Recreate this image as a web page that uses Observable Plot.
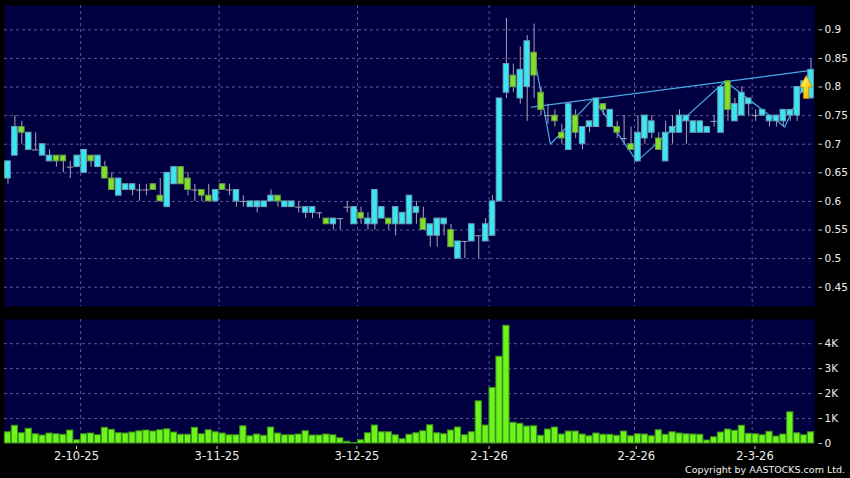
<!DOCTYPE html>
<html><head><meta charset="utf-8">
<script src="https://cdn.jsdelivr.net/npm/d3@7"></script>
<script src="https://cdn.jsdelivr.net/npm/@observablehq/plot@0.6"></script>
<style>
html,body{margin:0;padding:0;background:#000;}
#wrap{position:relative;width:850px;height:478px;overflow:hidden;background:#000;}
#top{position:absolute;left:0;top:0;}
#bot{position:absolute;left:0;top:310px;}
#copy{position:absolute;right:5px;top:464px;color:#f0f0f0;font:9.5px "DejaVu Sans",sans-serif;white-space:nowrap;}
</style></head>
<body><div id="wrap"><div id="top"></div><div id="bot"></div><div id="copy">Copyright by AASTOCKS.com Ltd.</div></div>
<script>
// ---- data ----
const open  = [.64,.68,.73,.69,.69,.68,.67,.68,.68,.66, .66,.65,.68,.66,.66,.64,.61,.62,.62,.62, .62,.63,.61,.59,.63,.66,.64,.62,.62,.61, .60,.63,.62,.60,.60,.59,.59,.59,.60,.61, .59,.59,.59,.58,.58,.58,.57,.56,.57,.59, .56,.58,.56,.56,.57,.57,.56,.56,.56,.58, .57,.54,.54,.56,.55,.50,.53,.53,.54,.53, .54,.60,.79,.82,.78,.80,.86,.79,.75,.75, .72,.69,.75,.70,.73,.73,.77,.73,.73,.71, .70,.67,.71,.72,.71,.67,.72,.72,.74,.72, .72,.72,.74,.72,.81,.74,.75,.77,.75,.75, .74,.74,.74,.75,.75,.79,.78];
const high  = [.67,.75,.74,.72,.72,.70,.69,.68,.68,.67, .68,.69,.68,.68,.67,.65,.64,.63,.63,.63, .63,.63,.64,.65,.66,.66,.65,.63,.62,.63, .62,.63,.63,.62,.61,.60,.60,.60,.62,.61, .60,.60,.60,.59,.59,.58,.57,.57,.57,.60, .59,.59,.58,.62,.59,.57,.59,.58,.61,.60, .59,.56,.57,.57,.56,.53,.53,.56,.54,.57, .61,.78,.92,.84,.87,.89,.91,.80,.77,.76, .735,.77,.76,.73,.74,.78,.77,.76,.74,.75, .73,.75,.75,.75,.72,.74,.75,.76,.75,.74, .74,.73,.75,.80,.81,.78,.80,.78,.76,.76, .75,.75,.76,.76,.80,.81,.85];
const low   = [.63,.68,.70,.69,.69,.68,.67,.66,.65,.64, .66,.65,.66,.66,.64,.62,.61,.62,.61,.60, .61,.62,.60,.59,.63,.63,.61,.60,.60,.60, .60,.62,.61,.59,.59,.59,.58,.59,.60,.59, .59,.59,.58,.57,.57,.57,.56,.55,.55,.58, .56,.56,.55,.55,.57,.55,.54,.56,.56,.56, .55,.52,.52,.54,.52,.50,.50,.53,.50,.53, .54,.60,.78,.79,.77,.74,.78,.75,.735,.73, .70,.69,.71,.69,.72,.73,.75,.73,.71,.70, .69,.67,.70,.71,.69,.67,.70,.72,.70,.72, .72,.72,.73,.72,.74,.74,.75,.75,.74,.75, .73,.73,.73,.74,.74,.78,.78];
const close = [.67,.73,.72,.72,.69,.70,.68,.67,.67,.66, .68,.69,.67,.68,.64,.62,.64,.63,.63,.62, .62,.62,.60,.65,.66,.63,.62,.62,.61,.60, .62,.62,.62,.62,.60,.60,.60,.60,.61,.60, .60,.60,.59,.59,.59,.58,.56,.57,.57,.59, .59,.57,.57,.62,.59,.56,.59,.58,.61,.59, .55,.56,.57,.57,.52,.53,.53,.56,.54,.56, .60,.78,.84,.80,.83,.88,.82,.76,.75,.74, .71,.77,.72,.73,.74,.78,.76,.76,.72,.71, .69,.72,.75,.74,.69,.72,.73,.75,.75,.74, .74,.73,.74,.80,.76,.77,.79,.78,.75,.76, .75,.75,.76,.76,.80,.81,.83];
const volumeK = [.45,.71,.41,.59,.37,.32,.40,.37,.35,.52, .13,.37,.40,.33,.63,.55,.41,.40,.44,.49, .52,.48,.53,.57,.44,.35,.35,.63,.37,.53, .45,.40,.33,.33,.69,.29,.36,.31,.64,.40, .33,.33,.36,.49,.32,.32,.36,.33,.21,.07, .02,.13,.41,.72,.45,.45,.33,.17,.35,.41, .49,.73,.41,.37,.52,.64,.33,.45,1.69,.72, 2.23,3.48,4.72,.83,.79,.68,.69,.31,.56,.64, .36,.48,.48,.36,.29,.40,.35,.35,.31,.48, .29,.37,.36,.29,.53,.35,.45,.40,.37,.36, .35,.12,.25,.44,.56,.51,.71,.39,.37,.33, .47,.28,.36,1.25,.41,.33,.45];
const priceTicks  = [0.45,0.5,0.55,0.6,0.65,0.7,0.75,0.8,0.85,0.9];
const priceLabels = ["0.45","0.5","0.55","0.6","0.65","0.7","0.75","0.8","0.85","0.9"];
const volTicks  = [0,1,2,3,4];
const volLabels = ["0","1K","2K","3K","4K"];
const dateLabels = ["2-10-25","3-11-25","3-12-25","2-1-26","2-2-26","2-3-26"];
const dateTickPos = [10.9,31.2,51.4,70.5,91.75,108.9];
const gridPos = [11.5,31.5,51.5,70.5,91.5,108.5];
const zigzagT = [77.0,79.35,85.6,91.85,104.6,113.2,117.0];
const zigzagP = [0.855,0.70,0.78,0.67,0.81,0.73,0.83];
const trendT = [76.6,117.0];
const trendP = [0.765,0.829];
const arrowT = [116.3];
const arrowP = [0.80];

// ---- build tables ----
const candles = open.map((o,i)=>({t:i+1,o,h:high[i],l:low[i],c:close[i],v:volumeK[i]}));
const ups = candles.filter(d=>d.c>d.o), downs = candles.filter(d=>d.c<d.o), dojis = candles.filter(d=>d.c===d.o);
const zigzag = zigzagT.map((t,i)=>({t,p:zigzagP[i]}));
const trend = trendT.map((t,i)=>({t,p:trendP[i]}));
const arrow = arrowT.map((t,i)=>({t,p:arrowP[i]}));

const PANEL="#000040", GRID="#5a5a92", WICK="#a4a4b4", CYAN="#3ae6f2", CYANS="#6aa2b4", GREEN="#80e02a", GREENS="#6a9a48", LINE="#45a8e8";
const XD=[0.5,117.5];
const arrowSymbol = {draw(ctx,size){const k=Math.sqrt(size/Math.PI)/4.5;
  ctx.moveTo(0,-11.5*k);ctx.lineTo(6.2*k,0);ctx.lineTo(2.6*k,0);ctx.lineTo(2.6*k,11.5*k);
  ctx.lineTo(-2.6*k,11.5*k);ctx.lineTo(-2.6*k,0);ctx.lineTo(-6.2*k,0);ctx.closePath();}};
const bodyOpts = (fill,stroke)=>({x1:d=>d.t-0.4,x2:d=>d.t+0.4,y1:d=>Math.min(d.o,d.c),y2:d=>Math.max(d.o,d.c),fill,stroke,strokeWidth:1});

const topPlot = Plot.plot({
  width:850,height:310,marginLeft:4,marginRight:36,marginTop:5,marginBottom:4,
  x:{domain:XD,axis:null},
  y:{domain:[0.4163,0.9425],axis:null},
  style:{background:"transparent",color:"#eeeeee",fontFamily:"DejaVu Sans",fontSize:"10.5px"},
  marks:[
    Plot.frame({fill:PANEL}),
    Plot.ruleY(priceTicks,{stroke:GRID,strokeDasharray:"3,3"}),
    Plot.ruleX(gridPos,{stroke:GRID,strokeDasharray:"3,3"}),
    Plot.line(trend,{x:"t",y:"p",stroke:LINE,strokeWidth:1.2}),
    Plot.line(zigzag,{x:"t",y:"p",stroke:LINE,strokeWidth:1.2}),
    Plot.ruleX(candles,{x:"t",y1:"l",y2:"h",stroke:WICK}),
    Plot.rect(ups,bodyOpts(CYAN,CYANS)),
    Plot.rect(downs,bodyOpts(GREEN,GREENS)),
    Plot.ruleY(dojis,{y:"c",x1:d=>d.t-0.45,x2:d=>d.t+0.45,stroke:WICK}),
    Plot.dot(arrow,{x:"t",y:"p",symbol:arrowSymbol,r:4.5,fill:"url(#arrowGrad)",stroke:"#c88a00",strokeWidth:0.8}),
    Plot.axisY({anchor:"right",label:null,ticks:priceTicks,tickFormat:d=>priceLabels[priceTicks.indexOf(d)],dx:3.5,tickSize:3.5,tickPadding:3,stroke:"#cccccc",fill:"#eeeeee"})
  ]
});
const defs = d3.select(topPlot).insert("defs",":first-child");
const g = defs.append("linearGradient").attr("id","arrowGrad").attr("x1","0").attr("y1","0").attr("x2","1").attr("y2","1");
g.append("stop").attr("offset","0%").attr("stop-color","#ffffa0");
g.append("stop").attr("offset","55%").attr("stop-color","#ffd21a");
g.append("stop").attr("offset","100%").attr("stop-color","#ffa000");
document.getElementById("top").append(topPlot);

const botPlot = Plot.plot({
  width:850,height:168,marginLeft:4,marginRight:36,marginTop:9,marginBottom:35,
  x:{domain:XD,axis:null},
  y:{domain:[0,4.97],axis:null},
  style:{background:"transparent",color:"#eeeeee",fontFamily:"DejaVu Sans",fontSize:"11.5px"},
  marks:[
    Plot.frame({fill:PANEL}),
    Plot.ruleY(volTicks.slice(1),{stroke:GRID,strokeDasharray:"3,3"}),
    Plot.ruleX(gridPos,{stroke:GRID,strokeDasharray:"3,3"}),
    Plot.rectY(candles,{x1:d=>d.t-0.45,x2:d=>d.t+0.45,y:"v",fill:"#6cf51c",stroke:"#3f8f1a",strokeWidth:1}),
    Plot.axisY({anchor:"right",label:null,ticks:volTicks,tickFormat:d=>volLabels[volTicks.indexOf(d)],dx:3.5,tickSize:3.5,tickPadding:3,stroke:"#cccccc",fill:"#eeeeee",fontSize:10.5}),
    Plot.axisX({anchor:"bottom",label:null,ticks:dateTickPos,tickFormat:d=>dateLabels[dateTickPos.indexOf(d)],dy:3,tickSize:3,tickPadding:2,stroke:"#cccccc",fill:"#eeeeee"})
  ]
});
document.getElementById("bot").append(botPlot);
</script>
</body></html>
